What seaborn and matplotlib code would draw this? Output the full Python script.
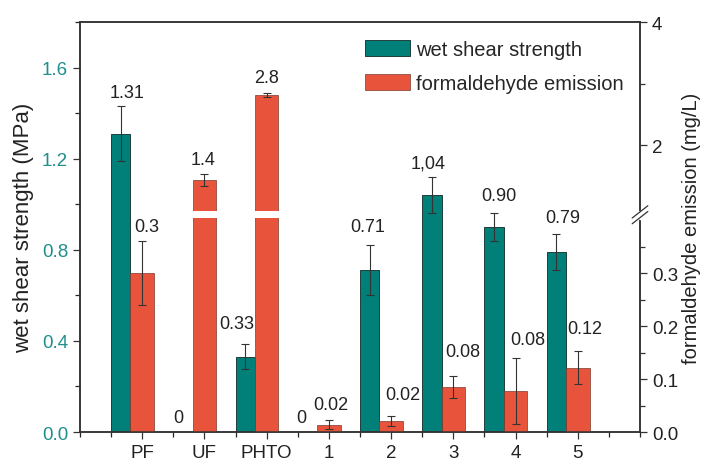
import numpy as np
import pandas as pd
import matplotlib
matplotlib.use('Agg')
import matplotlib.pyplot as plt
import seaborn as sns
from matplotlib.ticker import FixedLocator, MultipleLocator

# data
groups = ['PF', 'UF', 'PHTO', '1', '2', '3', '4', '5']
strength = [1.31, 0.0, 0.33, 0.0, 0.71, 1.04, 0.90, 0.79]
strength_err = [0.12, 0.0, 0.055, 0.0, 0.11, 0.08, 0.06, 0.08]
strength_text = ['1.31', '0', '0.33', '0', '0.71', '1,04', '0.90', '0.79']
emission = [0.30, 1.43, 2.81, 0.014, 0.021, 0.085, 0.077, 0.121]
emission_err = [0.06, 0.10, 0.035, 0.008, 0.01, 0.021, 0.062, 0.031]
emission_text = ['0.3', '1.4', '2.8', '0.02', '0.02', '0.08', '0.08', '0.12']

left_ticks = [0.0, 0.4, 0.8, 1.2, 1.6]
right_ticks = [0.0, 0.1, 0.2, 0.3, 2, 4]
right_tick_labels = ['0.0', '0.1', '0.2', '0.3', '2', '4']
right_minor = [0.05, 0.15, 0.25, 0.35, 3]

# label nudges (px) as placed in the original
strength_nudge = [(6, 1), (-5, 2), (-8, 8), (-6, 2), (-2, 6), (-4, 1), (5, 5), (6, 4)]
emission_nudge = [(5, 2), (-1, 2), (0, 3), (2, 3), (12, 8), (9, 12), (12, 6), (7, 10)]

# broken right axis: 0-0.42 lower part, 1-4 upper part
brk_lo, brk_hi = 0.42, 1.0
gap_lo, gap_hi = 0.403, 0.418

teal = '#017f79'
red = '#e8543b'
teal_text = '#1f8f8c'
dark = '#333333'
txt = '#222222'

df = pd.DataFrame({'group': groups, 'strength': strength, 'strength_err': strength_err,
                   'emission': emission, 'emission_err': emission_err})
df['pos'] = np.arange(len(df))
teal_shift = -0.345


def fwd(v):
    v = np.asarray(v, dtype=float)
    return np.where(v <= brk_lo, v * 0.977 / brk_lo,
                    np.where(v <= brk_hi, 0.977 + (v - brk_lo) * 0.013 / (brk_hi - brk_lo),
                             0.990 + (v - brk_hi) * 0.81 / 3.0))


def inv(u):
    u = np.asarray(u, dtype=float)
    return np.where(u <= 0.977, u * brk_lo / 0.977,
                    np.where(u <= 0.990, brk_lo + (u - 0.977) * (brk_hi - brk_lo) / 0.013,
                             brk_hi + (u - 0.990) * 3.0 / 0.81))


sns.set_style('ticks')
plt.rcParams['font.family'] = ['Liberation Sans', 'DejaVu Sans']
plt.rcParams['font.size'] = 13

fig = plt.figure(figsize=(7.05, 4.64), dpi=100)
fig.subplots_adjust(left=0.1135, right=0.9078, bottom=0.0668, top=0.9504)
ax = fig.add_subplot(111)
ax2 = ax.twinx()

# wet shear strength bars (left axis)
df['teal_x'] = df['pos'] + teal_shift
sns.barplot(data=df, x='teal_x', y='strength', native_scale=True, width=0.31,
            color=teal, saturation=1, errorbar=None, edgecolor='#1e3d3b',
            linewidth=0.7, label='wet shear strength', ax=ax)
m = df['strength_err'] > 0
ax.errorbar(df.loc[m, 'teal_x'], df.loc[m, 'strength'], yerr=df.loc[m, 'strength_err'],
            fmt='none', ecolor=dark, elinewidth=0.8, capsize=3, capthick=0.8, zorder=4)

# formaldehyde emission bars (right axis)
sns.barplot(data=df, x='pos', y='emission', native_scale=True, width=0.38,
            color=red, saturation=1, errorbar=None, edgecolor='#7a3a30',
            linewidth=0.5, label='formaldehyde emission', ax=ax2)
big = df['emission'] > gap_hi
ax2.bar(df.loc[big, 'pos'], gap_hi - gap_lo, bottom=gap_lo, width=0.44,
        color='white', linewidth=0, zorder=3)
ax2.errorbar(df['pos'], df['emission'], yerr=df['emission_err'], fmt='none',
             ecolor=dark, elinewidth=0.8, capsize=3, capthick=0.8, zorder=4)

for a in (ax, ax2):
    if a.get_legend() is not None:
        a.get_legend().remove()

ax2.set_yscale('function', functions=(fwd, inv))
ax.set_ylim(0, 1.8)
ax2.set_ylim(0, 4)
ax.set_xlim(-1, 8)

# value labels (all drawn on the top axes so the red bars do not hide them)
for x, y, e, t, (dx, dy) in zip(df['teal_x'], df['strength'], df['strength_err'],
                                strength_text, strength_nudge):
    ax2.annotate(t, (x, y + e), xycoords=ax.transData, xytext=(dx * 0.72, 3 + dy * 0.72),
                 textcoords='offset points', ha='center', va='bottom', fontsize=13, color=txt)
for x, y, e, t, (dx, dy) in zip(df['pos'], df['emission'], df['emission_err'],
                                emission_text, emission_nudge):
    ax2.annotate(t, (x, y + e), xytext=(dx * 0.72, 3 + dy * 0.72), textcoords='offset points',
                 ha='center', va='bottom', fontsize=13, color=txt)

# axes, ticks
ax.set_xticks(df['pos'])
ax.set_xticklabels(groups)
ax.xaxis.set_minor_locator(FixedLocator(np.arange(-1, 8.01, 0.5)))
ax.set_xlabel('')
ax.set_yticks(left_ticks)
ax.set_yticklabels([f'{v:.1f}' for v in left_ticks])
ax.yaxis.set_minor_locator(MultipleLocator(0.2))
ax.tick_params(axis='y', colors=dark, labelcolor=teal_text, labelsize=13.5)
ax.tick_params(axis='x', colors=dark, labelcolor=txt, labelsize=13.5)
ax.tick_params(which='major', direction='out', length=5, width=0.9)
ax.tick_params(which='minor', direction='out', length=3.5, width=0.9)
ax.set_ylabel('wet shear strength (MPa)', fontsize=16, labelpad=6, color=txt)

ax2.yaxis.set_major_locator(FixedLocator(right_ticks))
ax2.set_yticklabels(right_tick_labels)
ax2.yaxis.set_minor_locator(FixedLocator(right_minor))
ax2.tick_params(which='major', direction='out', length=5, width=0.9, colors=dark,
                labelcolor=txt, labelsize=13.5)
ax2.tick_params(which='minor', direction='out', length=3.5, width=0.9, colors=dark)
ax2.set_ylabel('formaldehyde emission (mg/L)', fontsize=14.5, labelpad=3, color=txt)

for a in (ax, ax2):
    for s in a.spines.values():
        s.set_visible(True)
        s.set_color(dark)
        s.set_linewidth(1.1)

# break marks on the right spine
yb = fwd(0.41) / 1.8
ax2.plot([1, 1], [yb - 0.007, yb + 0.007], color='white', lw=2.5,
         transform=ax2.transAxes, clip_on=False, zorder=5)
for d in (-0.007, 0.007):
    ax2.plot([0.986, 1.014], [yb + d - 0.015, yb + d + 0.015], color=dark, lw=0.9,
             transform=ax2.transAxes, clip_on=False, zorder=6)

h1, l1 = ax.get_legend_handles_labels()
h2, l2 = ax2.get_legend_handles_labels()
ax2.legend(h1 + h2, l1 + l2, loc='upper left', bbox_to_anchor=(0.477, 1.0),
           frameon=False, fontsize=14.5, handlelength=2.23, handleheight=0.84,
           handletextpad=0.3, labelspacing=0.75)

fig.savefig('out.png', dpi=100)
